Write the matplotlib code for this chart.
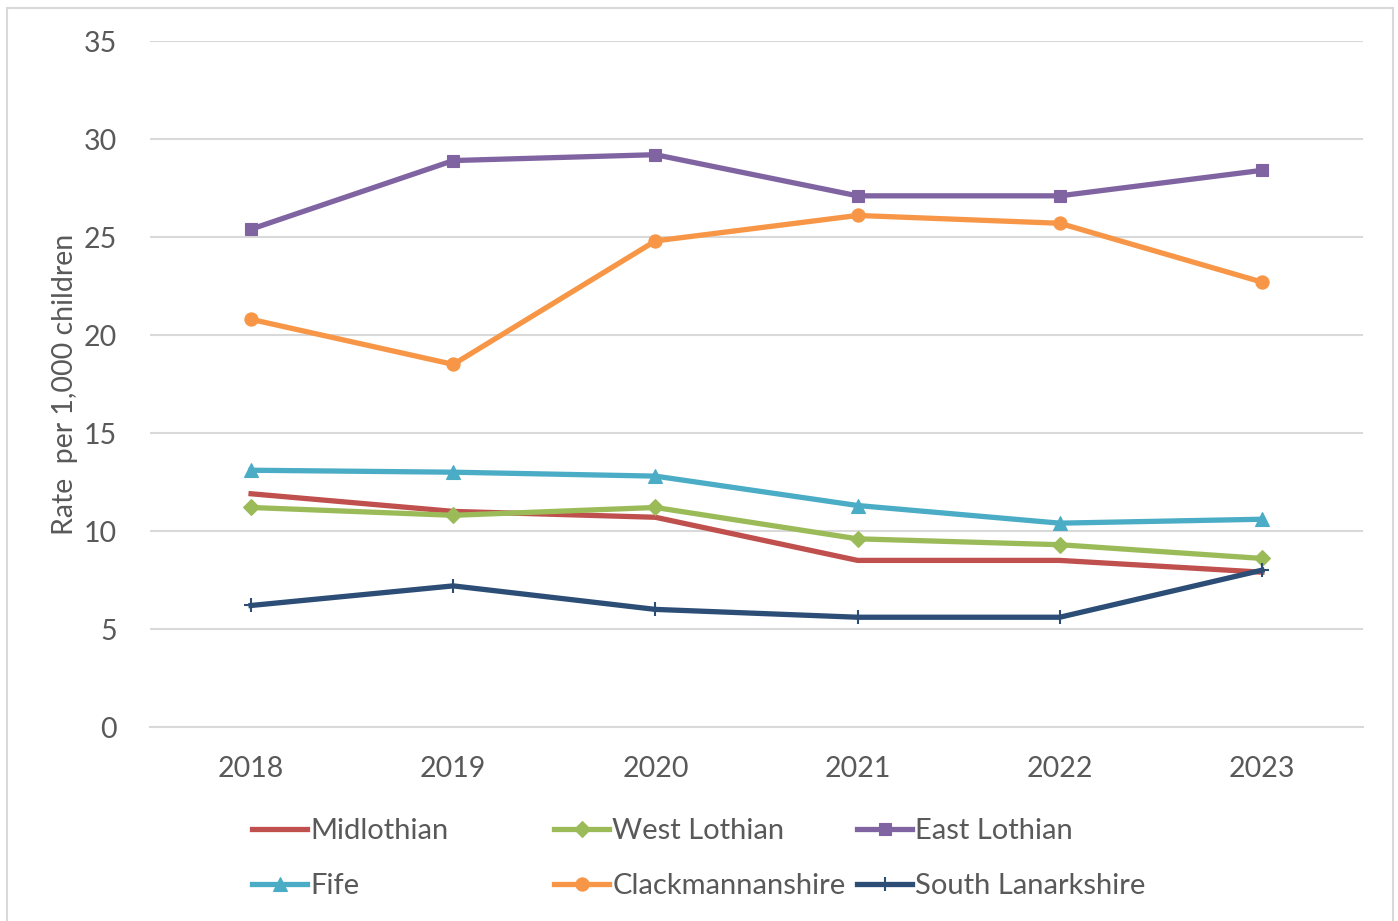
import matplotlib.pyplot as plt
from matplotlib.patches import Rectangle

years = ['2018', '2019', '2020', '2021', '2022', '2023']

midlothian = [11.9, 11.0, 10.7, 8.5, 8.5, 7.9]
west_lothian = [11.2, 10.8, 11.2, 9.6, 9.3, 8.6]
east_lothian = [25.4, 28.9, 29.2, 27.1, 27.1, 28.4]
fife = [13.1, 13.0, 12.8, 11.3, 10.4, 10.6]
clackmannanshire = [20.8, 18.5, 24.8, 26.1, 25.7, 22.7]
south_lanarkshire = [6.2, 7.2, 6.0, 5.6, 5.6, 8.0]

plt.rcParams['font.family'] = ['Lato', 'DejaVu Sans']

fig = plt.figure(figsize=(13.98, 9.21), dpi=100, facecolor='white')
ax = fig.add_axes([150 / 1398, 1 - 727 / 921, 1213 / 1398, 686 / 921])

x = range(len(years))
series = [
    ('Midlothian', midlothian, '#C0504D', 'None', 8),
    ('West Lothian', west_lothian, '#9BBB59', 'D', 8),
    ('East Lothian', east_lothian, '#8064A2', 's', 9),
    ('Fife', fife, '#4BACC6', '^', 10.5),
    ('Clackmannanshire', clackmannanshire, '#F79646', 'o', 9.5),
    ('South Lanarkshire', south_lanarkshire, '#2C4D75', '+', 10),
]
lines = []
for name, vals, col, mk, ms in series:
    ln, = ax.plot(x, vals, color=col, lw=3.8, marker=mk, markersize=ms,
                  markeredgewidth=1.5 if mk == '+' else 0.8,
                  markeredgecolor=col, label=name, zorder=3)
    lines.append(ln)

ax.set_xlim(-0.5, 5.5)
ax.set_ylim(0, 35)
ax.set_yticks(range(0, 36, 5))
ax.set_xticks(list(x))
ax.set_xticklabels(years)
ax.grid(axis='y', color='#D9D9D9', lw=1.5)
ax.set_axisbelow(True)
for s in ['top', 'right', 'left']:
    ax.spines[s].set_visible(False)
ax.spines['bottom'].set_color('#D9D9D9')
ax.spines['bottom'].set_linewidth(1.5)
ax.tick_params(length=0, labelsize=20.5, labelcolor='#595959')
ax.tick_params(axis='x', pad=21)
ax.tick_params(axis='y', pad=24)
ax.set_ylabel('Rate  per 1,000 children', fontsize=20.5, color='#595959', labelpad=4)

# legend: three columns of equal width, two rows
col_x = [252, 554, 857]
for i in range(3):
    hs = [lines[i], lines[i + 3]]
    leg = fig.legend(hs, [h.get_label() for h in hs], loc='upper left',
                     bbox_to_anchor=(col_x[i] / 1398, 1 - 818 / 921),
                     frameon=False, fontsize=21, handlelength=1.9,
                     handletextpad=0.1, labelspacing=1.0,
                     borderaxespad=0, borderpad=0)
    for t in leg.get_texts():
        t.set_color('#595959')

fig.patches.append(Rectangle((7 / 1398, -0.01), 1386 / 1398, 1 - 8 / 921 + 0.01,
                             transform=fig.transFigure, fill=False,
                             edgecolor='#D9D9D9', lw=1.5))

fig.savefig('out.png', dpi=100)
